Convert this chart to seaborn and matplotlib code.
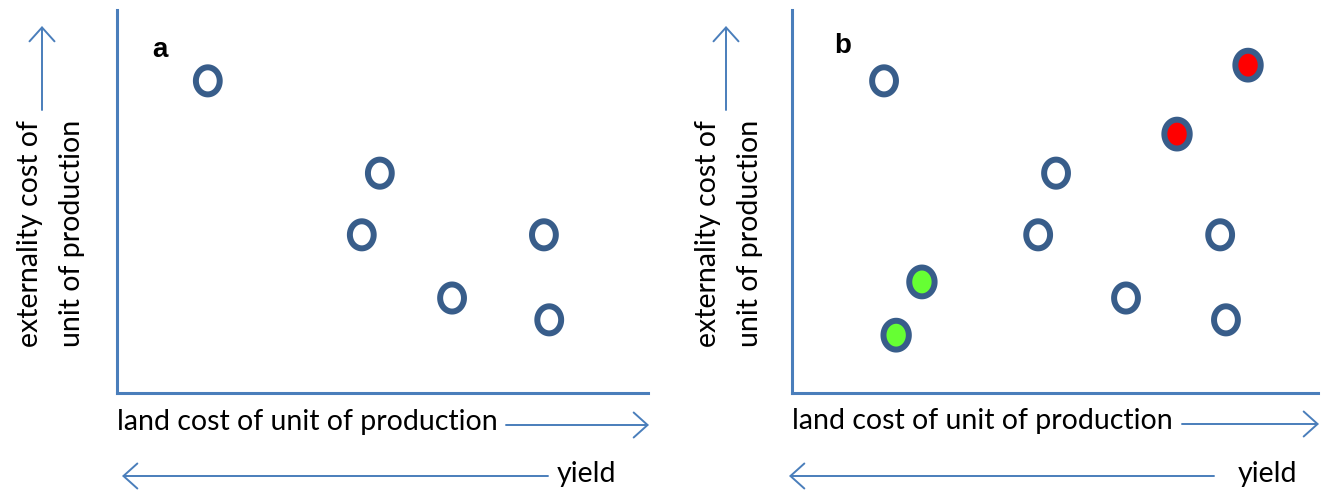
import numpy as np
import pandas as pd
import matplotlib
matplotlib.use("Agg")
import matplotlib.pyplot as plt
from matplotlib.path import Path
from matplotlib.patches import FancyArrowPatch
import seaborn as sns

# Panel a: land cost vs externality cost of production systems
a_land = [1.71, 4.95, 4.61, 8.04, 6.31, 8.14]
a_ext = [8.15, 5.74, 4.13, 4.13, 2.48, 1.91]
a_group = ["other", "other", "other", "other", "other", "other"]

# Panel b: same systems plus highlighted ones
b_land = [1.75, 8.67, 7.32, 5.02, 4.68, 8.14, 2.47, 6.35, 8.25, 1.98]
b_ext = [8.15, 8.56, 6.76, 5.74, 4.13, 4.13, 2.90, 2.48, 1.91, 1.51]
b_group = ["other", "worse", "worse", "other", "other", "other",
           "better", "other", "other", "better"]

panel_letters = ["a", "b"]
x_text = "land cost of unit of production"
y_text = ["externality cost of", "unit of production"]
yield_text = "yield"

sns.set_theme(style="white")
plt.rcParams["font.family"] = ["Lato", "DejaVu Sans"]

W, H = 1331, 493
fig = plt.figure(figsize=(W / 100, H / 100), dpi=100)
fig.patch.set_facecolor("white")

def fx(px):
    return px / W

def fy(py):
    return 1 - py / H

AXIS_BLUE = "#4A7EBB"
EDGE_BLUE = "#385D8A"
palette = {"other": "white", "worse": "#FF0000", "better": "#66FF33"}
sizes = {"other": 380, "worse": 430, "better": 430}

# slightly tall ellipse marker
t = np.linspace(0, 2 * np.pi, 80)
ell = Path(np.column_stack([0.88 * np.cos(t), np.sin(t)]), closed=True)

panels = [
    dict(left=117, right=648, land=a_land, ext=a_ext, group=a_group,
         letter=(160, 50), ylab=(30, 72), uparrow=42, xarr=(506, 649),
         yarr=(548, 122), ytxt=557, xlab_y=422),
    dict(left=792, right=1318, land=b_land, ext=b_ext, group=b_group,
         letter=(843, 46), ylab=(708, 750), uparrow=726, xarr=(1182, 1319),
         yarr=(1214, 789), ytxt=1238, xlab_y=421),
]

top, bottom = 10, 393
FS = 20.5

for letter, p in zip(panel_letters, panels):
    ax = fig.add_axes([fx(p["left"]), fy(bottom),
                       (p["right"] - p["left"]) / W, (bottom - top) / H])
    df = pd.DataFrame({"land": p["land"], "ext": p["ext"], "group": p["group"]})
    sns.scatterplot(data=df, x="land", y="ext", hue="group", palette=palette,
                    size="group", sizes=sizes, marker=ell,
                    edgecolor=EDGE_BLUE, linewidth=4.3, legend=False,
                    ax=ax, clip_on=False, zorder=3)
    ax.set_xlim(0, 10)
    ax.set_ylim(0, 10)
    ax.set_xticks([])
    ax.set_yticks([])
    ax.set_xlabel("")
    ax.set_ylabel("")
    ax.set_facecolor("none")
    for side in ["top", "right"]:
        ax.spines[side].set_visible(False)
    for side in ["left", "bottom"]:
        ax.spines[side].set_color(AXIS_BLUE)
        ax.spines[side].set_linewidth(2.2)

    # panel letter
    fig.text(fx(p["letter"][0]), fy(p["letter"][1]), letter,
             fontsize=20, fontweight="bold", ha="center", va="center",
             family=["Liberation Sans", "DejaVu Sans"], color="black")

    # x label with arrow
    fig.text(fx(p["left"]), fy(p["xlab_y"]), x_text, fontsize=FS,
             ha="left", va="center", color="black")
    arrow = dict(arrowstyle="->,head_length=0.5,head_width=0.45",
                 color=AXIS_BLUE, lw=1.4, mutation_scale=20,
                 shrinkA=0, shrinkB=0)
    fig.add_artist(FancyArrowPatch(
        (fx(p["xarr"][0]), fy(p["xlab_y"] + 3)),
        (fx(p["xarr"][1]), fy(p["xlab_y"] + 3)),
        transform=fig.transFigure, **arrow))

    # yield arrow
    fig.add_artist(FancyArrowPatch(
        (fx(p["yarr"][0]), fy(476)), (fx(p["yarr"][1]), fy(476)),
        transform=fig.transFigure, **arrow))
    fig.text(fx(p["ytxt"]), fy(474), yield_text, fontsize=FS,
             ha="left", va="center", color="black")

    # y label, two rotated lines, plus upward arrow
    for xpix, line in zip(p["ylab"], y_text):
        fig.text(fx(xpix), fy(347), line, fontsize=FS, rotation=90,
                 rotation_mode="anchor", ha="left", va="center", color="black")
    fig.add_artist(FancyArrowPatch(
        (fx(p["uparrow"]), fy(110)), (fx(p["uparrow"]), fy(26)),
        transform=fig.transFigure, **arrow))

fig.savefig("out.png", dpi=100, facecolor="white")
